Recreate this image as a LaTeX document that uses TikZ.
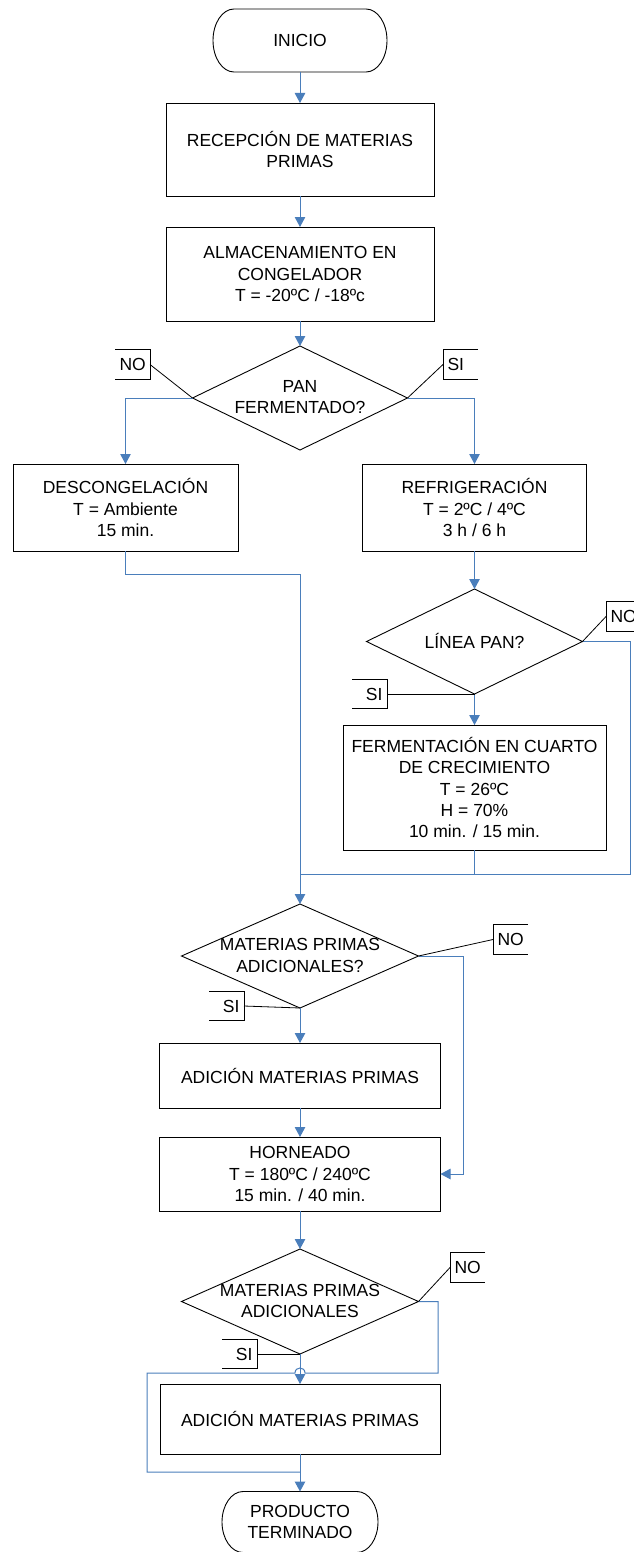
\documentclass[tikz,border=0pt]{standalone}
\usepackage{fontspec}
\setmainfont{Liberation Sans}
\usetikzlibrary{arrows.meta,shapes.geometric}
\definecolor{flowblue}{RGB}{74,126,187}
\begin{document}
\begin{tikzpicture}[x=1pt,y=-1pt,
  every node/.style={font=\fontsize{17.5}{21.3}\selectfont, inner sep=0pt, outer sep=0pt},
  proc/.style={draw=black, line width=0.9pt, align=center},
  term/.style={align=center},
  dia/.style={shape=diamond, draw=black, line width=0.9pt},
  dtext/.style={align=center},
  flow/.style={draw=flowblue, line width=1pt, -{Triangle[length=10pt,width=10.5pt]}},
  link/.style={draw=flowblue, line width=1pt},
  lblL/.style={text width=26pt, inner xsep=4.5pt, minimum height=29.5pt, align=right},
  lblR/.style={text width=26pt, inner xsep=4.5pt, minimum height=29.5pt, align=left},
  callout/.style={draw=black, line width=0.8pt},
  leader/.style={draw=black, line width=0.8pt}]
\fill[white] (0,0) rectangle (634,1552);
\useasboundingbox (0,0) rectangle (634,1552);

% ---------- nodes ----------
\node[term, minimum width=174pt, minimum height=63pt] (inicio) at (300,40.5) {INICIO};
\draw[line width=0.9pt] ([xshift=21pt]inicio.north west) -- ([xshift=-21pt]inicio.north east)
  arc[start angle=90,end angle=-90,x radius=21pt,y radius=31.5pt]
  -- ([xshift=21pt]inicio.south west)
  arc[start angle=270,end angle=90,x radius=21pt,y radius=31.5pt] -- cycle;

\node[proc, minimum width=268pt, minimum height=93pt] (recep) at (300,149.5) {RECEPCIÓN DE MATERIAS\\PRIMAS};
\node[proc, minimum width=268pt, minimum height=94pt] (almac) at (300,274) {ALMACENAMIENTO EN\\CONGELADOR\\T = -20ºC / -18ºc};

\node[dia, minimum width=215pt, minimum height=104pt] (d1) at (300,398) {};
\node[dtext] (t1) at (300,397) {PAN\\FERMENTADO?};

\node[proc, minimum width=225pt, minimum height=87pt] (desc) at (125.5,507.5) {DESCONGELACIÓN\\T = Ambiente\\15 min.};
\node[proc, minimum width=224pt, minimum height=87pt] (refr) at (474.5,507.5) {REFRIGERACIÓN\\T = 2ºC / 4ºC\\3 h / 6 h};

\node[dia, minimum width=216pt, minimum height=105pt] (d2) at (474.5,641.5) {};
\node[dtext] (t2) at (474.5,641) {LÍNEA PAN?};

\node[proc, minimum width=263pt, minimum height=125pt] (ferm) at (474.5,787.5) {FERMENTACIÓN EN CUARTO\\DE CRECIMIENTO\\T = 26ºC\\H = 70\%\\10 min. / 15 min.};

\node[dia, minimum width=237pt, minimum height=104pt] (d3) at (300,956) {};
\node[dtext] (t3) at (300,955.5) {MATERIAS PRIMAS\\ADICIONALES?};

\node[proc, minimum width=281pt, minimum height=65pt] (adic1) at (300,1075.5) {ADICIÓN MATERIAS PRIMAS};
\node[proc, minimum width=281pt, minimum height=74pt] (horn) at (300,1174) {HORNEADO\\T = 180ºC / 240ºC\\15 min. / 40 min.};

\node[dia, minimum width=237pt, minimum height=105pt] (d4) at (300,1301.5) {};
\node[dtext] (t4) at (300,1301) {MATERIAS PRIMAS\\ADICIONALES};

\node[proc, minimum width=280pt, minimum height=70pt] (adic2) at (300,1419) {ADICIÓN MATERIAS PRIMAS};

\node[term, minimum width=156pt, minimum height=61pt] (prod) at (300,1522) {PRODUCTO\\TERMINADO};
\draw[line width=0.9pt] ([xshift=21pt]prod.north west) -- ([xshift=-21pt]prod.north east)
  arc[start angle=90,end angle=-90,x radius=21pt,y radius=30.5pt]
  -- ([xshift=21pt]prod.south west)
  arc[start angle=270,end angle=90,x radius=21pt,y radius=30.5pt] -- cycle;

% ---------- connectors ----------
\draw[flow] (inicio.south) -- (recep.north);
\draw[flow] (recep.south) -- (almac.north);
\draw[flow] (almac.south) -- (d1.north);
\draw[flow] (d1.west) -| (desc.north);
\draw[flow] (d1.east) -| (refr.north);
\coordinate (j1) at (300,574);
\draw[flow] (desc.south) |- (j1) -- (d3.north);
\draw[flow] (refr.south) -- (d2.north);
\coordinate (c2) at (630,641.5);
\coordinate (j2) at (300,874);
\draw[link] (d2.east) -- (c2) |- (j2);
\draw[flow] (d2.south) -- (ferm.north);
\draw[link] (ferm.south) |- (j2);
\draw[flow] (d3.south) -- (adic1.north);
\coordinate (c3) at (463,1174);
\draw[flow] (d3.east) -| (c3) -- (horn.east);
\draw[flow] (adic1.south) -- (horn.north);
\draw[flow] (horn.south) -- (d4.north);
\draw[flow] (d4.south) -- (adic2.north);
\coordinate (c4a) at (438,1373);
\coordinate (hopR) at (305,1373);
\coordinate (hopL) at (295,1373);
\coordinate (c4b) at (147,1373);
\coordinate (c4c) at (147,1472);
\coordinate (j4) at (300,1472);
\draw[link] (d4.east) -| (c4a) -- (hopR) .. controls (305,1366.3) and (295,1366.3) .. (hopL) -- (c4b) -- (c4c) -- (j4);
\draw[flow] (adic2.south) -- (prod.north);

% ---------- decision labels ----------
\node[lblL] (no1) at (132.5,364.5) {NO};
\draw[callout] (no1.north west) -- (no1.north east) -- (no1.south east) -- (no1.south west);
\draw[leader] (no1.east) -- (d1.west);

\node[lblR] (si1) at (460.5,364.5) {SI};
\draw[callout] (si1.north east) -- (si1.north west) -- (si1.south west) -- (si1.south east);
\draw[leader] (si1.west) -- (d1.east);

\node[lblR] (no2) at (623.5,616.5) {NO};
\draw[callout] (no2.north east) -- (no2.north west) -- (no2.south west) -- (no2.south east);
\draw[leader] (no2.west) -- (d2.east);

\node[lblL] (si2) at (369.5,694) {SI};
\draw[callout] (si2.north west) -- (si2.north east) -- (si2.south east) -- (si2.south west);
\draw[leader] (si2.east) -- (d2.south);

\node[lblR] (no3) at (510.5,939.5) {NO};
\draw[callout] (no3.north east) -- (no3.north west) -- (no3.south west) -- (no3.south east);
\draw[leader] (no3.west) -- (d3.east);

\node[lblL] (si3) at (226.5,1006) {SI};
\draw[callout] (si3.north west) -- (si3.north east) -- (si3.south east) -- (si3.south west);
\draw[leader] (si3.east) -- (d3.south);

\node[lblR] (no4) at (467.5,1267.5) {NO};
\draw[callout] (no4.north east) -- (no4.north west) -- (no4.south west) -- (no4.south east);
\draw[leader] (no4.west) -- (d4.east);

\node[lblL] (si4) at (239.5,1354) {SI};
\draw[callout] (si4.north west) -- (si4.north east) -- (si4.south east) -- (si4.south west);
\draw[leader] (si4.east) -- (d4.south);
\end{tikzpicture}
\end{document}
